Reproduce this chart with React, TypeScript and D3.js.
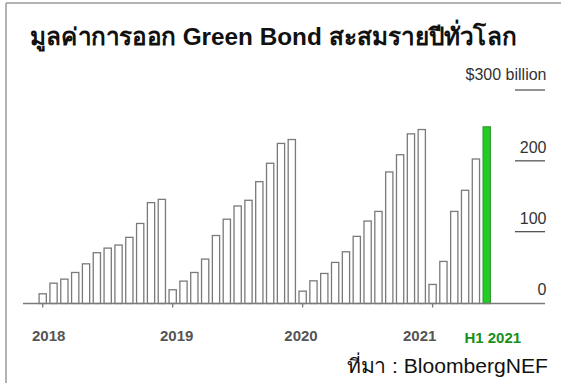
import React from "react";
import * as d3 from "d3";

const title = "มูลค่าการออก Green Bond สะสมรายปีทั่วโลก";
const source = "ที่มา : BloombergNEF";
const years = ["2018", "2019", "2020", "2021"];
const values2018 = [13.7, 28.7, 34.4, 43.8, 56, 71.7, 78.2, 82.5, 93.4, 113, 142.4, 147];
const values2019 = [19.4, 31.6, 43.8, 62.7, 96, 119, 137.7, 145.7, 172, 198, 226, 231.5];
const values2020 = [17.4, 32, 42.4, 58, 73, 94.8, 116.4, 130, 185.7, 210, 239.5, 245.6];
const values2021 = [26.9, 59.4, 130, 159.8, 204, 249.4];
const yTicks = [0, 100, 200, 300];
const yTickLabels = ["0", "100", "200", "$300 billion"];
const highlightLabel = "H1 2021";
// layout only: label centres (px) as seen in the reference
const yearLabelX = [48.7, 176.7, 301, 419.7];
const highlightLabelX = 492.8;

const W = 561;
const H = 383;

export default function App() {
  const series = [values2018, values2019, values2020, values2021];
  const bars: { key: string; year: number; month: number; value: number; highlight: boolean }[] = [];
  series.forEach((vals, yi) =>
    vals.forEach((v, mi) =>
      bars.push({
        key: `${years[yi]}-${mi}`,
        year: yi,
        month: mi,
        value: v,
        highlight: yi === series.length - 1 && mi === vals.length - 1,
      })
    )
  );

  const x = d3
    .scaleBand<string>()
    .domain(bars.map((b) => b.key))
    .range([37.3, 37.3 + bars.length * 10.83])
    .paddingInner(0.33)
    .paddingOuter(0.165);
  const y = d3.scaleLinear().domain([0, 300]).range([303.5, 91]);

  const firstOfYear = years.map((yr) => `${yr}-0`);

  return (
    <svg
      width={W}
      height={H}
      style={{ position: "absolute", left: 0, top: 0, background: "#fff" }}
      fontFamily="Liberation Sans, Arial, sans-serif"
    >
      {/* frame */}
      <line x1={6} y1={3} x2={W} y2={3} stroke="#9a9a9a" strokeWidth={1.5} />
      <line x1={6} y1={3} x2={6} y2={H} stroke="#9a9a9a" strokeWidth={1.5} />

      <text
        x={30}
        y={45}
        fontSize={24}
        fontWeight="bold"
        fill="#111"
        textLength={487}
        lengthAdjust="spacingAndGlyphs"
      >
        {title}
      </text>

      {/* right axis */}
      {yTicks.map((t, i) => (
        <g key={t}>
          {t > 0 && (
            <line x1={515} x2={545} y1={y(t) - 1} y2={y(t) - 1} stroke="#555" strokeWidth={1.3} />
          )}
          <text
            x={546.5}
            y={y(t) - (t === 300 ? 11 : 9)}
            textAnchor="end"
            fontSize={16}
            fill="#333"
          >
            {yTickLabels[i]}
          </text>
        </g>
      ))}

      {/* bars */}
      {bars.map((b) => (
        <rect
          key={b.key}
          x={x(b.key)}
          y={y(b.value)}
          width={x.bandwidth()}
          height={y(0) - y(b.value)}
          fill={b.highlight ? "#22cc22" : "#fff"}
          stroke={b.highlight ? "#3a9a3a" : "#7a7a7a"}
          strokeWidth={1.3}
        />
      ))}

      {/* baseline */}
      <line x1={23} x2={545} y1={y(0)} y2={y(0)} stroke="#7a7a7a" strokeWidth={1.4} />
      {firstOfYear.map((k) => (
        <line
          key={k}
          x1={(x(k) ?? 0) + x.bandwidth() / 2}
          x2={(x(k) ?? 0) + x.bandwidth() / 2}
          y1={y(0)}
          y2={y(0) + 4}
          stroke="#7a7a7a"
          strokeWidth={1.3}
        />
      ))}

      {years.map((yr, i) => (
        <text key={yr} x={yearLabelX[i]} y={341} textAnchor="middle" fontSize={15} fontWeight="bold" fill="#555">
          {yr}
        </text>
      ))}
      <text x={highlightLabelX} y={343} textAnchor="middle" fontSize={15} fontWeight="bold" fill="#1a8f1a">
        {highlightLabel}
      </text>

      <text
        x={347}
        y={373}
        fontSize={20}
        fill="#111"
        textLength={201}
        lengthAdjust="spacingAndGlyphs"
      >
        {source}
      </text>
    </svg>
  );
}
